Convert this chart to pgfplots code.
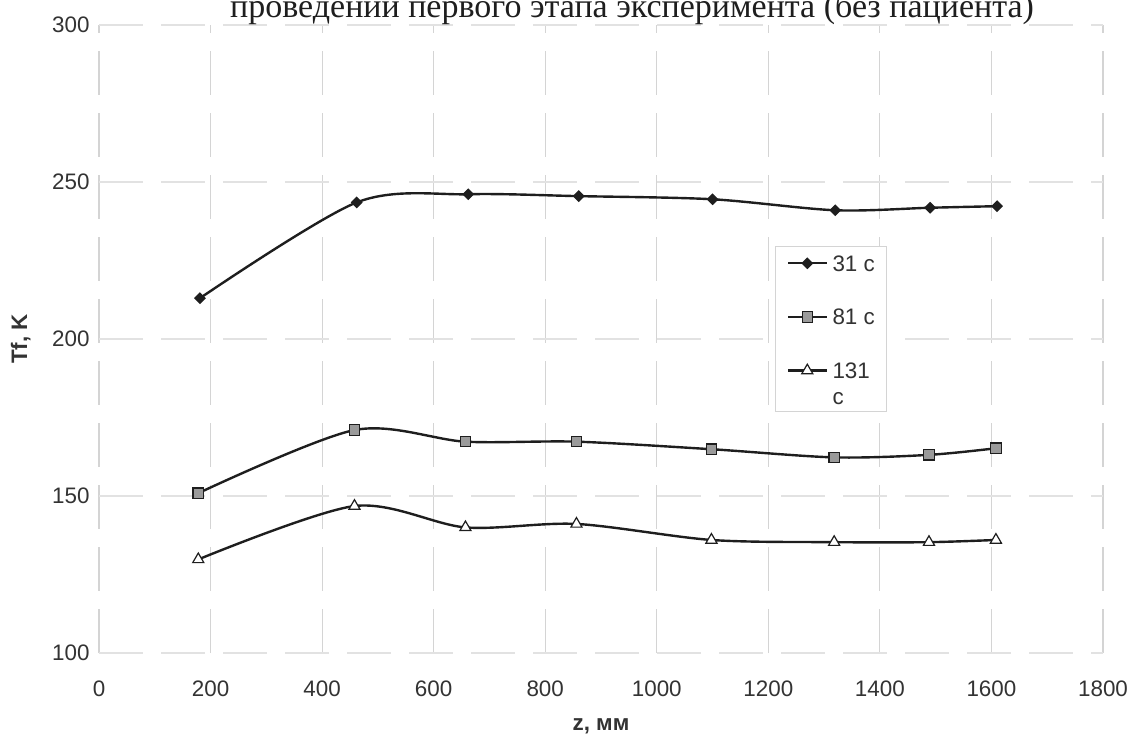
\documentclass[border=0pt]{standalone}
\usepackage{fontspec}
\setmainfont{Liberation Sans}
\newfontfamily\titlefont{Liberation Serif}
\usepackage{pgfplots}
\pgfplotsset{compat=1.18}
\definecolor{ln}{HTML}{1E1E1E}
\definecolor{txt}{HTML}{333333}
\definecolor{grd}{HTML}{D4D4D4}
\definecolor{grdh}{HTML}{E2E2E2}
\definecolor{sqf}{HTML}{9A9A9A}

\begin{document}
\begin{tikzpicture}
\begin{axis}[name=ax, scale only axis, width=502pt, height=314pt,
  clip=false,
  xmin=0, xmax=1800, ymin=100, ymax=300,
  xtick={0,200,...,1800}, ytick={100,150,...,300},
  axis line style={draw=none},
  major tick length=0pt,
  xmajorgrids, ymajorgrids,
  x grid style={grd, line width=0.6pt, dash pattern=on 22pt off 9pt},
  y grid style={grdh, line width=0.6pt, dash pattern=on 22pt off 9pt},
  /pgf/number format/assume math mode=true,
  /pgf/number format/set thousands separator={},
  tick label style={font=\fontsize{11.2}{13}\selectfont, text=txt, inner sep=0pt},
  xticklabel style={anchor=north, yshift=-13.5pt},
  yticklabel style={anchor=east, xshift=-4.5pt},
  xlabel={\bfseries z, мм},
  xlabel style={at={(axis description cs:0.5,-0.1234)}, anchor=base, inner sep=0pt, font=\fontsize{11.2}{13}\selectfont, text=txt},
  ylabel={\bfseries Tf, K},
  ylabel style={at={(axis description cs:-0.0717,0.5)}, anchor=base, inner sep=0pt, font=\fontsize{11.2}{13}\selectfont, text=txt},
  legend style={at={(axis description cs:0.673,0.648)}, anchor=north west,
    draw=grd, fill=white, font=\fontsize{11.2}{13.25}\selectfont, text=txt,
    nodes={inner sep=0pt},
    cells={anchor=base west}, inner xsep=6pt, inner ysep=4.5pt,
    row sep=17.5pt,
    /tikz/every odd column/.append style={column sep=2.5pt}},
  legend image code/.code={\draw[mark repeat=2,mark phase=2,#1] plot coordinates {(0pt,3.9pt) (9.5pt,3.9pt) (19pt,3.9pt)};},
]
\addplot[ln, line width=1.2pt, smooth, tension=0.5, mark=square*, mark size=1.8pt,
  mark options={rotate=45, fill=ln, solid, line width=0.6pt}]
  coordinates {(181,213) (462,243.5) (662,246.1) (860,245.5) (1100,244.5) (1320,241) (1490,241.8) (1610,242.3)};
\addlegendentry{31 с}
\addplot[ln, line width=1.2pt, smooth, tension=0.5, mark=square*, mark size=2.6pt,
  mark options={fill=sqf, draw=ln, solid, line width=0.6pt}]
  coordinates {(178,150.9) (458,171.0) (657,167.3) (856,167.3) (1098,164.9) (1318,162.3) (1488,163.1) (1608,165.2)};
\addlegendentry{81 с}
\addplot[ln, line width=1.2pt, smooth, tension=0.5, mark=triangle*, mark size=3.2pt,
  mark options={fill=white, draw=ln, solid, line width=0.6pt}]
  coordinates {(178,129.8) (458,146.8) (657,140.0) (856,141.1) (1098,136.0) (1318,135.3) (1488,135.3) (1608,136.0)};
\addlegendentry[text depth=12.25pt]{\vtop{\hbox{131}\hbox{с}}}
\node[anchor=base, inner sep=0pt, font=\titlefont\fontsize{17}{20}\selectfont, text=ln] at (axis description cs:0.531,1.0127) {проведении первого этапа эксперимента (без пациента)};
\end{axis}
\pgfresetboundingbox
\path[use as bounding box] ([xshift=-49.5pt,yshift=-42.5pt]ax.south west) rectangle ++(570pt,369pt);
\end{tikzpicture}
\end{document}
